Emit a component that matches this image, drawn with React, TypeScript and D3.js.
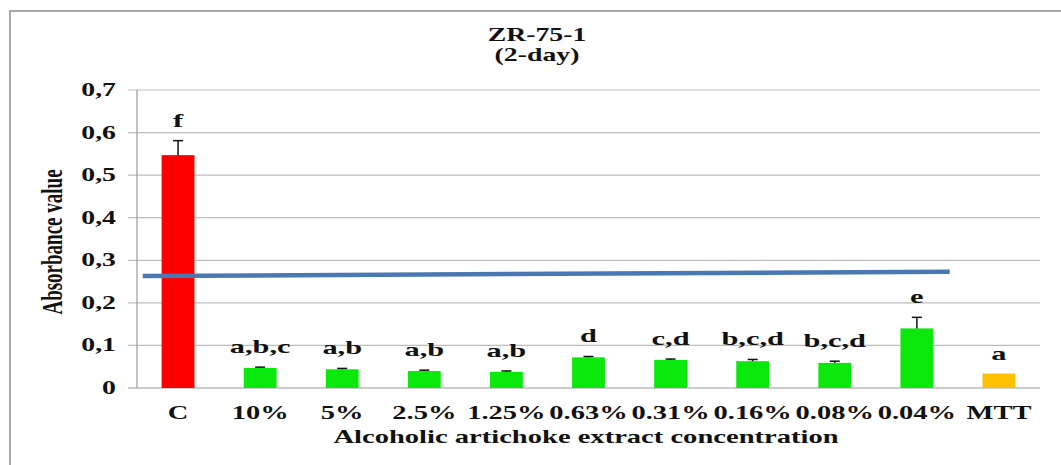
import { useEffect, useRef } from 'react';
import * as d3 from 'd3';

// Chart data
const categories = ['C', '10%', '5%', '2.5%', '1.25%', '0.63%', '0.31%', '0.16%', '0.08%', '0.04%', 'MTT'];
const absorbance = [0.547, 0.047, 0.044, 0.04, 0.038, 0.072, 0.066, 0.063, 0.059, 0.14, 0.034];
const errorPlus = [0.034, 0.002, 0.002, 0.002, 0.002, 0.002, 0.002, 0.004, 0.004, 0.026, 0];
const letters = ['f', 'a,b,c', 'a,b', 'a,b', 'a,b', 'd', 'c,d', 'b,c,d', 'b,c,d', 'e', 'a'];
const barColors = ['#ff0000', '#0be80b', '#0be80b', '#0be80b', '#0be80b', '#0be80b', '#0be80b', '#0be80b', '#0be80b', '#0be80b', '#ffc000'];
const yTicks = [0, 0.1, 0.2, 0.3, 0.4, 0.5, 0.6, 0.7];
// reference line, position given as fractional category index
const refLineIndex = [0.07, 9.9];
const refLineValue = [0.263, 0.273];

const FONT = '"Liberation Serif", "Times New Roman", serif';
const STRETCH = 1.5;

const App = () => {
  const svgRef = useRef(null);

  useEffect(() => {
    const svg = d3.select(svgRef.current);
    svg.selectAll('*').remove();

    const left = 137;
    const right = 1040;
    const top = 90;
    const bottom = 388;

    const x = d3.scaleBand().domain(categories).range([left, right]).padding(0);
    const xIdx = d3.scaleLinear().domain([0, categories.length]).range([left, right]);
    const y = d3.scaleLinear().domain([0, 0.7]).range([bottom, top]);
    const barW = x.bandwidth() * 0.4;
    const fmt = v => (v === 0 ? '0' : v.toFixed(1).replace('.', ','));

    // outer frame
    svg.append('path')
      .attr('d', 'M10,465 L10,11 L1061,11')
      .attr('fill', 'none')
      .attr('stroke', '#a8a8a8')
      .attr('stroke-width', 2);

    const stretched = (g, tx, ty, txt, anchor, size = 18.5, sx = STRETCH) =>
      g.append('text')
        .attr('transform', `translate(${tx},${ty}) scale(${sx},1)`)
        .attr('text-anchor', anchor)
        .style('font-family', FONT)
        .style('font-weight', 'bold')
        .style('font-size', size + 'px')
        .attr('fill', '#111')
        .text(txt);

    // title
    stretched(svg, 537, 41, 'ZR-75-1', 'middle');
    stretched(svg, 537, 61, '(2-day)', 'middle');

    // gridlines + y ticks
    yTicks.forEach(t => {
      svg.append('line')
        .attr('x1', 128).attr('x2', right)
        .attr('y1', y(t)).attr('y2', y(t))
        .attr('stroke', t === 0 ? '#9a9a9a' : '#bdbdbd')
        .attr('stroke-width', 1.2);
      stretched(svg, 116, y(t) + 6, fmt(t), 'end');
    });

    // y axis line
    svg.append('line')
      .attr('x1', left).attr('x2', left)
      .attr('y1', top).attr('y2', bottom)
      .attr('stroke', '#9a9a9a')
      .attr('stroke-width', 1.2);

    // y axis title
    svg.append('text')
      .attr('transform', `translate(62,242) scale(${STRETCH},1) rotate(-90)`)
      .attr('text-anchor', 'middle')
      .style('font-family', FONT)
      .style('font-weight', 'bold')
      .style('font-size', '19px')
      .attr('fill', '#111')
      .text('Absorbance value');

    const data = categories.map((c, i) => ({
      cat: c,
      value: absorbance[i],
      err: errorPlus[i],
      letter: letters[i],
      color: barColors[i]
    }));

    // bars
    svg.selectAll('.bar')
      .data(data)
      .enter()
      .append('rect')
      .attr('class', 'bar')
      .attr('x', d => x(d.cat) + (x.bandwidth() - barW) / 2)
      .attr('width', barW)
      .attr('y', d => y(d.value))
      .attr('height', d => bottom - y(d.value))
      .attr('fill', d => d.color);

    // error bars (plus only)
    const errs = svg.selectAll('.err')
      .data(data.filter(d => d.err > 0))
      .enter()
      .append('g')
      .attr('class', 'err');
    errs.append('line')
      .attr('x1', d => x(d.cat) + x.bandwidth() / 2)
      .attr('x2', d => x(d.cat) + x.bandwidth() / 2)
      .attr('y1', d => y(d.value))
      .attr('y2', d => y(d.value + d.err))
      .attr('stroke', '#111')
      .attr('stroke-width', 1.5);
    errs.append('line')
      .attr('x1', d => x(d.cat) + x.bandwidth() / 2 - 5)
      .attr('x2', d => x(d.cat) + x.bandwidth() / 2 + 5)
      .attr('y1', d => y(d.value + d.err))
      .attr('y2', d => y(d.value + d.err))
      .attr('stroke', '#111')
      .attr('stroke-width', 1.5);

    // significance letters
    data.forEach(d => {
      stretched(svg, x(d.cat) + x.bandwidth() / 2, y(d.value + d.err) - 14, d.letter, 'middle', 19, 1.6);
    });

    // reference line
    const line = d3.line()
      .x(d => xIdx(d[0]))
      .y(d => y(d[1]));
    svg.append('path')
      .datum(refLineIndex.map((p, i) => [p, refLineValue[i]]))
      .attr('d', line)
      .attr('fill', 'none')
      .attr('stroke', '#4a78b2')
      .attr('stroke-width', 4.5);

    // x tick labels
    categories.forEach(c => {
      stretched(svg, x(c) + x.bandwidth() / 2, 419, c, 'middle', 19);
    });

    // x axis title
    stretched(svg, 586, 443, 'Alcoholic artichoke extract concentration', 'middle', 18.8, 1.52);
  }, []);

  return (
    <svg
      ref={svgRef}
      width={1061}
      height={465}
      style={{ position: 'absolute', left: 0, top: 0, background: '#fff' }}
    ></svg>
  );
};

export default App;
